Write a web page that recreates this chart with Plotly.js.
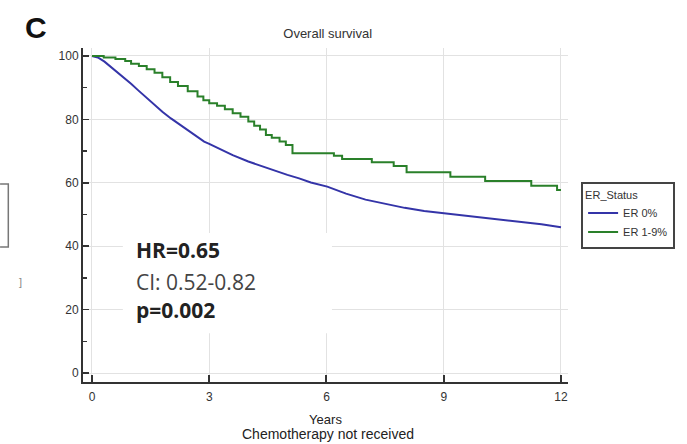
<!DOCTYPE html>
<html>
<head>
<meta charset="utf-8">
<script src="https://cdn.plot.ly/plotly-3.0.1.min.js"></script>
<style>html,body{margin:0;padding:0;background:#fff;}#chart{width:687px;height:444px;}</style>
</head>
<body>
<div id="chart"></div>
<script>
// ER 0% (blue) Kaplan-Meier readings
const er0Years = [0,0.15,0.32,0.5,0.75,1.0,1.17,1.4,1.6,1.8,2.02,2.25,2.45,2.65,2.87,3.0,3.3,3.6,4.0,4.45,5.0,5.3,5.6,6.02,6.5,7.0,7.5,8.0,8.5,9.0,9.5,10.0,10.5,11.0,11.5,12.0];
const er0Surv  = [100,99.5,98.2,96.4,94.0,91.2,89.3,86.7,84.5,82.4,80.3,78.3,76.7,75.0,73.0,72.3,70.4,68.7,66.7,64.7,62.5,61.4,60.1,58.8,56.6,54.7,53.3,52.1,51.1,50.4,49.8,49.2,48.5,47.7,46.9,46.0];
// ER 1-9% (green) step readings
const er19Years = [0,0.3,0.6,0.85,1.0,1.2,1.4,1.6,1.8,2.0,2.2,2.45,2.7,2.85,3.0,3.2,3.4,3.6,3.8,4.0,4.15,4.3,4.45,4.6,4.8,4.96,5.13,6.19,6.4,7.16,7.72,8.05,9.17,10.06,11.24,11.9,12.0];
const er19Surv  = [100,99.5,99,98.4,97.5,96.8,95.8,94.7,93.3,91.8,90.5,88.9,87.2,86.0,85.1,84.3,83.2,81.9,80.8,79.3,78.0,76.8,75.1,74.2,73.0,71.9,69.3,68.5,67.5,66.5,65.3,63.3,61.9,60.6,59.1,57.7,57.7];

const seriesNames = ["ER 0%", "ER 1-9%"];
const xTicks = [0,3,6,9,12];
const yTicks = [0,20,40,60,80,100];
const statLines = ["<b>HR=0.65</b>", "CI: 0.52-0.82", "<b>p=0.002</b>"];
const statY = [38.8, 28.7, 19.9];

const FONT = "Liberation Sans, Arial, sans-serif";

const traces = [
  {x: er0Years, y: er0Surv, name: seriesNames[0], type: "scatter", mode: "lines",
   line: {color: "rgb(52,52,168)", width: 2, shape: "linear"}},
  {x: er19Years, y: er19Surv, name: seriesNames[1], type: "scatter", mode: "lines",
   line: {color: "rgb(42,128,42)", width: 2, shape: "hv"}}
];

const annotations = [
  {text: "<b>C</b>", xref: "paper", yref: "paper", x: -0.123, y: 1.06, xanchor: "left", yanchor: "middle",
   showarrow: false, font: {family: FONT, size: 30, color: "#111"}},
  {text: "]", xref: "paper", yref: "paper", x: -0.128, y: 0.3, xanchor: "center", yanchor: "middle",
   showarrow: false, font: {family: FONT, size: 11, color: "#888"}},
  {text: "Chemotherapy not received", xref: "paper", yref: "paper", x: 0.505, y: -0.1557,
   xanchor: "center", yanchor: "middle", showarrow: false, font: {family: FONT, size: 14, color: "#222"}}
];
statLines.forEach((t, i) => {
  annotations.push({text: t, xref: "x", yref: "y", x: 1.08, y: statY[i], xanchor: "left", yanchor: "middle",
    showarrow: false, font: {family: "Open Sans, sans-serif", size: 21, color: i === 1 ? "#444" : "#222"}});
});

const layout = {
  width: 687, height: 444,
  margin: {l: 83, r: 117, t: 48, b: 62},
  paper_bgcolor: "#fff", plot_bgcolor: "#fff",
  font: {family: FONT, size: 11, color: "#333"},
  title: {text: "Overall survival", x: 0.477, xanchor: "center", y: 1 - 33/444, yanchor: "middle", yref: "container",
    font: {family: FONT, size: 13, color: "#333"}},
  xaxis: {range: [-0.23, 12.18], tickvals: xTicks, ticktext: xTicks.map(String),
    showgrid: true, gridcolor: "#e2e2e2", gridwidth: 1, zeroline: false,
    showline: true, linecolor: "#333", linewidth: 2,
    ticks: "inside", ticklen: 7, tickwidth: 2, tickcolor: "#333", ticklabelstandoff: 3,
    tickfont: {family: FONT, size: 12, color: "#333"},
    title: {text: "Years", standoff: 11, font: {family: FONT, size: 13, color: "#222"}}},
  yaxis: {range: [-2.8, 102.5], tickvals: yTicks, ticktext: yTicks.map(String),
    showgrid: true, gridcolor: "#e2e2e2", gridwidth: 1, zeroline: false,
    showline: true, linecolor: "#333", linewidth: 2,
    ticks: "inside", ticklen: 6, tickwidth: 1.5, tickcolor: "#333",
    minor: {dtick: 10, tick0: 10, ticks: "inside", ticklen: 4, tickcolor: "#333", showgrid: false},
    tickfont: {family: FONT, size: 12, color: "#333"}},
  legend: {x: 1.027, y: 0.598, xanchor: "left", yanchor: "top",
    bordercolor: "#444", borderwidth: 2, bgcolor: "#fff",
    title: {text: "ER_Status", font: {family: FONT, size: 11, color: "#333"}},
    font: {family: FONT, size: 11, color: "#333"}, itemwidth: 30, tracegroupgap: 0},
  shapes: [
    {type: "rect", xref: "x", yref: "y", x0: 0.79, x1: 6.14, y0: 12.6, y1: 44.2,
     fillcolor: "#fff", line: {width: 0}, layer: "between"},
    {type: "path", xref: "paper", yref: "paper",
     path: "M -0.171 0.593 L -0.154 0.593 L -0.154 0.404 L -0.171 0.404",
     line: {color: "#777", width: 1.5}}
  ],
  annotations: annotations,
  showlegend: true
};

Plotly.newPlot("chart", traces, layout, {displayModeBar: false, staticPlot: true});
</script>
</body>
</html>
